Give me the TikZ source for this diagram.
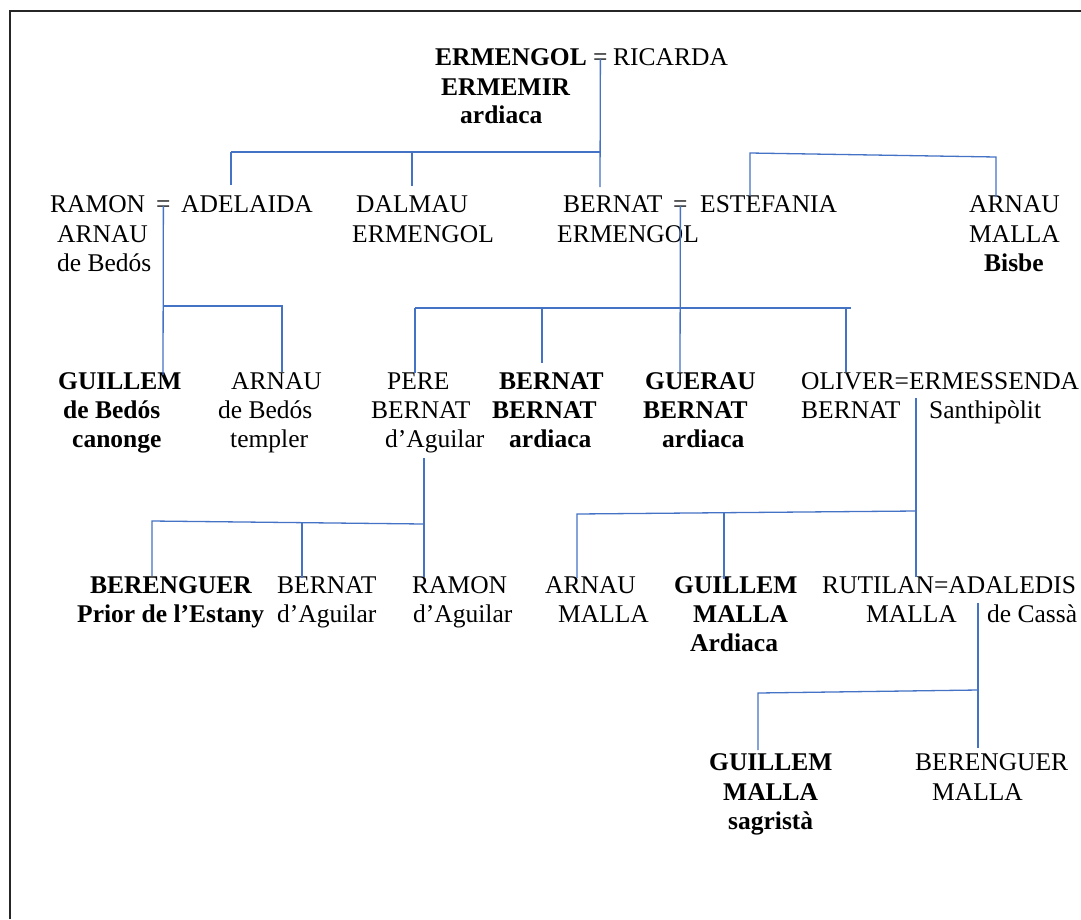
\documentclass[tikz,border=0pt]{standalone}
\usepackage{fontspec}
\setmainfont{Liberation Serif}
\definecolor{kinblue}{RGB}{68,114,196}
\tikzset{
  kin/.style={kinblue, line width=1.3pt},
  nm/.style={anchor=base west, inner sep=0pt, font=\fontsize{25.5}{29}\selectfont},
  bnm/.style={nm, font=\fontsize{25.5}{29}\selectfont\bfseries},
}
\begin{document}
\begin{tikzpicture}[x=1pt,y=-1pt]
\useasboundingbox (0,0) rectangle (1081,919);
\draw[line width=1.8pt, black!85] (10,919) -- (10,11) -- (1081,11);

% first generation
\node[bnm] (ermengol) at (435,65) {ERMENGOL};
\node[nm] (eqA) at (593,65) {=};
\node[nm] (ricarda) at (613,65) {RICARDA};
\node[bnm] (ermemir) at (441,95) {ERMEMIR};
\node[bnm] (ermemirB) at (460,123) {ardiaca};

% second generation
\node[nm] (ramon) at (50,212) {RAMON};
\node[nm] (eqB) at (156,212) {=};
\node[nm] (adelaida) at (181,212) {ADELAIDA};
\node[nm] (ramonB) at (57,242) {ARNAU};
\node[nm] (ramonC) at (57,271) {de Bedós};
\node[nm] (dalmau) at (356,212) {DALMAU};
\node[nm] (dalmauB) at (352,242) {ERMENGOL};
\node[nm] (bernat) at (563,212) {BERNAT};
\node[nm] (eqC) at (673,212) {=};
\node[nm] (estefania) at (700,212) {ESTEFANIA};
\node[nm] (bernatB) at (557,242) {ERMENGOL};
\node[nm] (arnau) at (969,212) {ARNAU};
\node[nm] (arnauB) at (969,242) {MALLA};
\node[bnm] (arnauC) at (984,271) {Bisbe};

% third generation
\node[bnm] (guillem) at (58,389) {GUILLEM};
\node[bnm] (guillemB) at (63,418) {de Bedós};
\node[bnm] (guillemC) at (72,447) {canonge};
\node[nm] (arnauT) at (231,389) {ARNAU};
\node[nm] (arnauTB) at (218,418) {de Bedós};
\node[nm] (arnauTC) at (230,447) {templer};
\node[nm] (pere) at (387,389) {PERE};
\node[nm] (pereB) at (371,418) {BERNAT};
\node[nm] (pereC) at (385,447) {d’Aguilar};
\node[bnm] (bernatT) at (499,389) {BERNAT};
\node[bnm] (bernatTB) at (492,418) {BERNAT};
\node[bnm] (bernatTC) at (509,447) {ardiaca};
\node[bnm] (guerau) at (645,389) {GUERAU};
\node[bnm] (guerauB) at (643,418) {BERNAT};
\node[bnm] (guerauC) at (662,447) {ardiaca};
\node[nm] (oliver) at (801,389) {OLIVER=ERMESSENDA};
\node[nm] (oliverB) at (801,418) {BERNAT};
\node[nm] (ermessendaB) at (929,418) {Santhipòlit};

% fourth generation
\node[bnm] (berenguer) at (90,593) {BERENGUER};
\node[bnm] (berenguerB) at (77,622) {Prior de l’Estany};
\node[nm] (bernatAg) at (277,593) {BERNAT};
\node[nm] (bernatAgB) at (277,622) {d’Aguilar};
\node[nm] (ramonAg) at (412,593) {RAMON};
\node[nm] (ramonAgB) at (413,622) {d’Aguilar};
\node[nm] (arnauM) at (545,593) {ARNAU};
\node[nm] (arnauMB) at (558,622) {MALLA};
\node[bnm] (guillemM) at (674,593) {GUILLEM};
\node[bnm] (guillemMB) at (693,622) {MALLA};
\node[bnm] (guillemMC) at (690,651) {Ardiaca};
\node[nm] (rutilan) at (822,593) {RUTILAN=ADALEDIS};
\node[nm] (rutilanB) at (866,622) {MALLA};
\node[nm] (adaledisB) at (987,622) {de Cassà};

% fifth generation
\node[bnm] (guillemS) at (709,770) {GUILLEM};
\node[bnm] (guillemSB) at (723,800) {MALLA};
\node[bnm] (guillemSC) at (728,829) {sagristà};
\node[nm] (berenguerM) at (915,770) {BERENGUER};
\node[nm] (berenguerMB) at (932,800) {MALLA};

% joints of the lines
\coordinate (barA) at (600,152);
\coordinate (ramonUp) at (231,185);
\coordinate (dalmauUp) at (412,186);
\coordinate (bernatUp) at (600,187);
\coordinate (barB1) at (750,153);
\coordinate (barB2) at (996,157);
\coordinate (estUp) at (750,196);
\coordinate (arnauUp) at (996,197);
\coordinate (barC) at (163,306);
\coordinate (guillemUp) at (163,375);
\coordinate (arnauTUp) at (282,372);
\coordinate (barD) at (680,308);
\coordinate (barDend) at (851,308);
\coordinate (pereUp) at (415,373);
\coordinate (bernatTUp) at (542,363);
\coordinate (guerauUp) at (680,372);
\coordinate (oliverUp) at (846,372);
\coordinate (oliverDn) at (916,398);
\coordinate (barE1) at (577,514);
\coordinate (barE2) at (916,511);
\coordinate (barE3) at (724,513);
\coordinate (arnauMUp) at (577,578);
\coordinate (guillemMUp) at (724,579);
\coordinate (rutilanUp) at (916,577);
\coordinate (pereDn) at (424,458);
\coordinate (barF1) at (152,521);
\coordinate (barF2) at (424,524);
\coordinate (barF3) at (302,523);
\coordinate (berenguerUp) at (152,576);
\coordinate (bernatAgUp) at (302,578);
\coordinate (ramonAgUp) at (424,577);
\coordinate (rutilanDn) at (978,603);
\coordinate (barG1) at (758,693);
\coordinate (barG2) at (978,690);
\coordinate (guillemSUp) at (758,750);
\coordinate (berenguerMUp) at (978,748);

% Ermengol = Ricarda
\draw[kin] (eqA.center) -- (bernatUp);
\draw[kin] (ramonUp |- barA) -- (barA);
\draw[kin] (ramonUp |- barA) -- (ramonUp);
\draw[kin] (dalmauUp |- barA) -- (dalmauUp);
\draw[kin] (estUp) -- (barB1) -- (barB2) -- (arnauUp);

% Ramon = Adelaida
\draw[kin] (eqB.center) -- (guillemUp);
\draw[kin] (barC) -- (arnauTUp |- barC) -- (arnauTUp);

% Bernat = Estefania
\draw[kin] (eqC.center) -- (guerauUp);
\draw[kin] (pereUp |- barD) -- (barDend);
\draw[kin] (pereUp |- barD) -- (pereUp);
\draw[kin] (bernatTUp |- barD) -- (bernatTUp);
\draw[kin] (oliverUp |- barD) -- (oliverUp);

% Oliver = Ermessenda
\draw[kin] (oliverDn) -- (barE2) -- (rutilanUp);
\draw[kin] (barE2) -- (barE1) -- (arnauMUp);
\draw[kin] (barE3) -- (guillemMUp);

% Pere Bernat d'Aguilar
\draw[kin] (pereDn) -- (barF2) -- (ramonAgUp);
\draw[kin] (barF2) -- (barF1) -- (berenguerUp);
\draw[kin] (barF3) -- (bernatAgUp);

% Rutilan = Adaledis
\draw[kin] (rutilanDn) -- (barG2) -- (berenguerMUp);
\draw[kin] (barG2) -- (barG1) -- (guillemSUp);
\end{tikzpicture}
\end{document}
